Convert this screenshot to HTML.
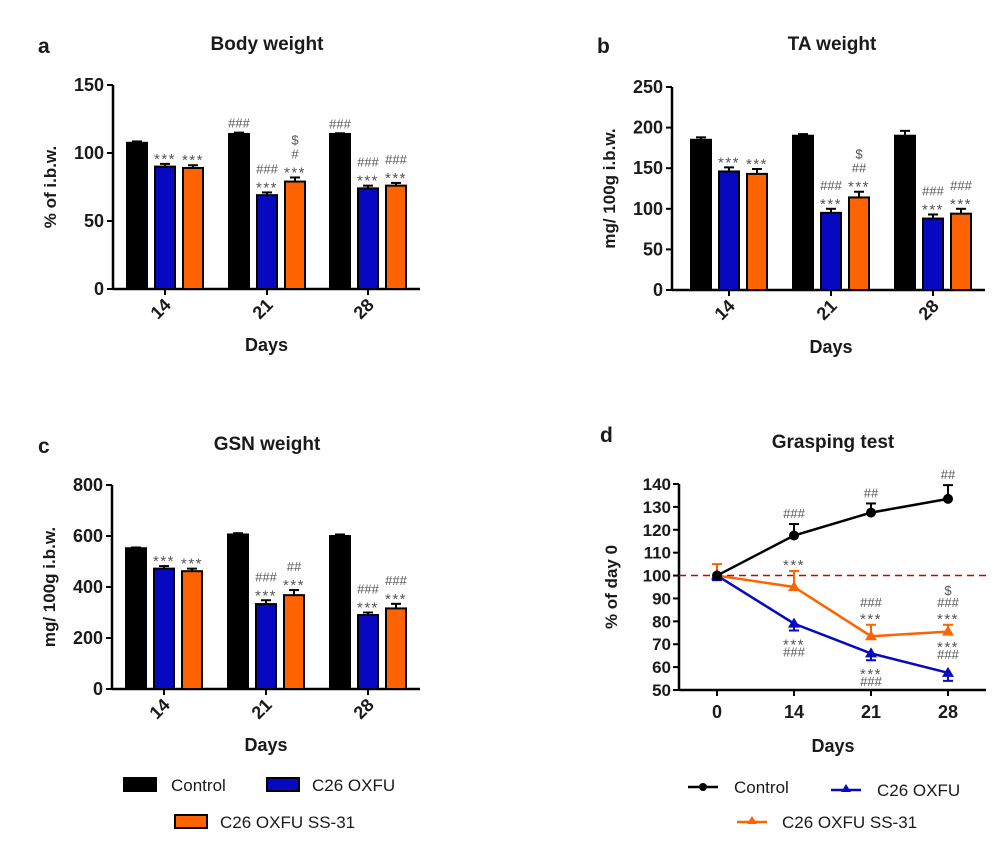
<!DOCTYPE html>
<html><head><meta charset="utf-8"><style>
html,body{margin:0;padding:0;background:#fff;}
svg{display:block;font-family:"Liberation Sans",Arial,sans-serif;}
</style></head><body>
<svg id="fig" width="1000" height="846" viewBox="0 0 1000 846" xmlns="http://www.w3.org/2000/svg"></svg>
<script>
// ---- data ----
const days = ["14","21","28"];
const aControl = [107.5,114,114], aControlErr=[1,1,0.5];
const aOxfu = [90,69,74], aOxfuErr=[2,2,2];
const aSS = [89,79,76], aSSErr=[2,3,2];
const bControl = [185,190,190], bControlErr=[3,2,6];
const bOxfu = [146,95,88], bOxfuErr=[5,5,5];
const bSS = [143,114,94], bSSErr=[6,7,6];
const cControl = [552,606,600], cControlErr=[3,5,6];
const cOxfu = [472,333,290], cOxfuErr=[10,15,10];
const cSS = [462,368,316], cSSErr=[10,20,18];
const aTicks=[0,50,100,150], bTicks=[0,50,100,150,200,250], cTicks=[0,200,400,600,800];
const aAnn=[[[],["***"],["***"]],[["###"],["###","***"],["$","#","***"]],[["###"],["###","***"],["###","***"]]];
const bAnn=[[[],["***"],["***"]],[[],["###","***"],["$","##","***"]],[[],["###","***"],["###","***"]]];
const cAnn=[[[],["***"],["***"]],[[],["###","***"],["##","***"]],[[],["###","***"],["###","***"]]];
const dDays=["0","14","21","28"];
const dControl=[100,117.5,127.5,133.5], dControlErr=[0,5,4,6];
const dOxfu=[100,79,66,57.5], dOxfuErr=[2,3,3,3.5];
const dSS=[100,95,73.5,75.5], dSSErr=[5,7,5,3];
const dTicks=[50,60,70,80,90,100,110,120,130,140];
const dAnnAbove=[[[],["###"],["##"],["##"]],[[],["***"],["###","***"],["$","###","***"]]];
const dAnnBelow=[[],["***","###"],["***","###"],["***","###"]];

const NS="http://www.w3.org/2000/svg";
const svg=document.getElementById('fig');
function el(tag,attrs,parent,text){const e=document.createElementNS(NS,tag);for(const k in attrs)e.setAttribute(k,attrs[k]);if(text!==undefined)e.textContent=text;(parent||svg).appendChild(e);return e;}
const BLUE="#0808c0", ORANGE="#ff6200", GRAY="#555", INK="#1a1a1a";
function annAttrs(txt,x,y){
  if(txt==='***') return {x:x,y:y+5,'font-size':15,'letter-spacing':1.5,fill:GRAY,'text-anchor':'middle'};
  return {x:x,y:y,'font-size':13,fill:GRAY,'text-anchor':'middle'};
}

function barPanel(o){
  const g=el('g',{});
  
  
  const max=o.ticks[o.ticks.length-1];
  const y=v=>o.yBot-(v/max)*(o.yBot-o.yTop);
  const t=el('text',{x:o.letterX,y:o.titleY+3,'font-size':21,'font-weight':'bold',fill:INK},g,o.letter);
  
  const ti=el('text',{x:o.titleX,y:o.titleY,'font-size':19,'font-weight':'bold','text-anchor':'middle',fill:INK},g,o.title);
  
  el('line',{x1:o.x0,y1:o.yTop,x2:o.x0,y2:o.yBot,stroke:'#000','stroke-width':2.5},g);
  el('line',{x1:o.x0,y1:o.yBot,x2:o.xEnd,y2:o.yBot,stroke:'#000','stroke-width':2.5},g);
  o.ticks.forEach(v=>{
    el('line',{x1:o.x0-6,y1:y(v),x2:o.x0,y2:y(v),stroke:'#000','stroke-width':2},g);
    const tl=el('text',{x:o.x0-9,y:y(v)+6,'font-size':18,'font-weight':'bold','text-anchor':'end',fill:INK},g,String(v));
    
  });
  const yt=el('text',{transform:`translate(${o.x0-57},${(o.yTop+o.yBot)/2}) rotate(-90)`,'font-size':17,'font-weight':'bold','text-anchor':'middle',fill:INK},g,o.ytitle);
  
  const series=[[o.ctrl,o.ctrlErr,'#000'],[o.ox,o.oxErr,BLUE],[o.ss,o.ssErr,ORANGE]];
  days.forEach((d,i)=>{
    const cx=o.centers[i];
    el('line',{x1:cx,y1:o.yBot,x2:cx,y2:o.yBot+6,stroke:'#000','stroke-width':2},g);
    const xl=el('text',{transform:`translate(${cx+7},${o.yBot+17}) rotate(-45)`,'font-size':18,'font-weight':'bold','text-anchor':'end',fill:INK},g,d);
    
    series.forEach((s,k)=>{
      const bx=cx+(k-1)*28, v=s[0][i], e=s[1][i];
      el('line',{x1:bx,y1:y(v),x2:bx,y2:y(v+e),stroke:'#000','stroke-width':2},g);
      el('line',{x1:bx-5,y1:y(v+e),x2:bx+5,y2:y(v+e),stroke:'#000','stroke-width':2},g);
      const r=el('rect',{x:bx-10,y:y(v),width:20,height:o.yBot-y(v),fill:s[2],stroke:'#000','stroke-width':2},g);
      
      
      const lines=o.ann[i][k];
      lines.forEach((txt,j)=>{
        const yy=y(v+e)-5-(lines.length-1-j)*14;
        const a=el('text',annAttrs(txt,bx,yy),g,txt);
        
      });
    });
  });
  const dx=el('text',{x:(o.centers[0]+o.centers[2])/2,y:o.daysY,'font-size':18,'font-weight':'bold','text-anchor':'middle',fill:INK},g,'Days');
  
}
barPanel({name:'body-weight-chart',letter:'a',letterX:38,title:'Body weight',titleX:267,titleY:50,x0:113,xEnd:420,yTop:85,yBot:289,ticks:aTicks,centers:[165,267,368],ytitle:'% of i.b.w.',ctrl:aControl,ctrlErr:aControlErr,ox:aOxfu,oxErr:aOxfuErr,ss:aSS,ssErr:aSSErr,ann:aAnn,daysY:351});
barPanel({name:'ta-weight-chart',letter:'b',letterX:597,title:'TA weight',titleX:832,titleY:50,x0:672,xEnd:985,yTop:87,yBot:290,ticks:bTicks,centers:[729,831,933],ytitle:'mg/ 100g i.b.w.',ctrl:bControl,ctrlErr:bControlErr,ox:bOxfu,oxErr:bOxfuErr,ss:bSS,ssErr:bSSErr,ann:bAnn,daysY:353});
barPanel({name:'gsn-weight-chart',letter:'c',letterX:38,title:'GSN weight',titleX:267,titleY:450,x0:112,xEnd:420,yTop:485,yBot:689,ticks:cTicks,centers:[164,266,368],ytitle:'mg/ 100g i.b.w.',ctrl:cControl,ctrlErr:cControlErr,ox:cOxfu,oxErr:cOxfuErr,ss:cSS,ssErr:cSSErr,ann:cAnn,daysY:751});

// bar legend
[[124,778,'#000','Control',171],[267,778,BLUE,'C26 OXFU',312],[175,815,ORANGE,'C26 OXFU SS-31',220]].forEach(l=>{
  const r=el('rect',{x:l[0],y:l[1],width:32,height:13,fill:l[2],stroke:'#000','stroke-width':2});
  
  const t=el('text',{x:l[4],y:l[1]+13,'font-size':17,fill:INK},svg,l[3]);
  
});

// ---- panel d ----
(function(){
  const g=el('g',{});
  
  
  const x0=679,xEnd=986,yTop=484,yBot=690,ymin=50,ymax=140;
  const y=v=>yBot-(v-ymin)/(ymax-ymin)*(yBot-yTop);
  const xs=i=>717+i*77;
  const L=el('text',{x:600,y:442,'font-size':21,'font-weight':'bold',fill:INK},g,'d');
  
  const T=el('text',{x:833,y:448,'font-size':19,'font-weight':'bold','text-anchor':'middle',fill:INK},g,'Grasping test');
  
  el('line',{x1:x0,y1:yTop,x2:x0,y2:yBot,stroke:'#000','stroke-width':2.5},g);
  el('line',{x1:x0,y1:yBot,x2:xEnd,y2:yBot,stroke:'#000','stroke-width':2.5},g);
  dTicks.forEach(v=>{
    el('line',{x1:x0-6,y1:y(v),x2:x0,y2:y(v),stroke:'#000','stroke-width':2},g);
    const t=el('text',{x:x0-8,y:y(v)+6,'font-size':17,'font-weight':'bold','text-anchor':'end',fill:INK},g,String(v));
    
  });
  dDays.forEach((d,i)=>{
    el('line',{x1:xs(i),y1:yBot,x2:xs(i),y2:yBot+6,stroke:'#000','stroke-width':2},g);
    const t=el('text',{x:xs(i),y:yBot+28,'font-size':18,'font-weight':'bold','text-anchor':'middle',fill:INK},g,d);
    
  });
  const yt=el('text',{transform:`translate(617,${(yTop+yBot)/2}) rotate(-90)`,'font-size':17,'font-weight':'bold','text-anchor':'middle',fill:INK},g,'% of day 0');
  
  const dx=el('text',{x:833,y:752,'font-size':18,'font-weight':'bold','text-anchor':'middle',fill:INK},g,'Days');
  
  const ref=el('line',{x1:x0,y1:y(100),x2:xEnd,y2:y(100),stroke:'#c00','stroke-width':1.5,'stroke-dasharray':'7,5'},g);
  
  function series(vals,errs,color,marker,name,down){
    const pl=el('polyline',{points:vals.map((v,i)=>xs(i)+','+y(v)).join(' '),fill:'none',stroke:color,'stroke-width':2.5},g);
    
    vals.forEach((v,i)=>{
      const e=errs[i]; if(e>0){
        const ye=down?y(v-e):y(v+e);
        el('line',{x1:xs(i),y1:y(v),x2:xs(i),y2:ye,stroke:color,'stroke-width':2},g);
        el('line',{x1:xs(i)-5,y1:ye,x2:xs(i)+5,y2:ye,stroke:color,'stroke-width':2},g);
      }
      let m;
      if(marker==='c') m=el('circle',{cx:xs(i),cy:y(v),r:5,fill:color},g);
      else m=el('polygon',{points:`${xs(i)},${y(v)-6} ${xs(i)-6},${y(v)+4} ${xs(i)+6},${y(v)+4}`,fill:color},g);
      
    });
  }
  series(dSS,dSSErr,ORANGE,'t','oxfu-ss31',false);
  series(dOxfu,dOxfuErr,BLUE,'t','oxfu',true);
  series(dControl,dControlErr,'#000','c','control',false);
  const aboveVals=[dControl.map((v,i)=>v+dControlErr[i]),dSS.map((v,i)=>v+dSSErr[i])];
  dAnnAbove.forEach((s,k)=>s.forEach((lines,i)=>lines.forEach((txt,j)=>{
    const yy=y(aboveVals[k][i])-6-(lines.length-1-j)*12;
    const a=el('text',annAttrs(txt,xs(i),yy),g,txt);
    
  })));
  dAnnBelow.forEach((lines,i)=>lines.forEach((txt,j)=>{
    const base=y(dOxfu[i]-dOxfuErr[i]);
    const yy=i===3? y(dOxfu[i]+dOxfuErr[i])-18+j*12 : base+14+j*12;
    const a=el('text',annAttrs(txt,xs(i),yy),g,txt);
    
  }));
  [[688,787,'#000','c','Control',734],[831,790,BLUE,'t','C26 OXFU',877],[737,822,ORANGE,'t','C26 OXFU SS-31',782]].forEach(l=>{
    el('line',{x1:l[0],y1:l[1],x2:l[0]+30,y2:l[1],stroke:l[2],'stroke-width':2.5});
    let m;
    if(l[3]==='c') m=el('circle',{cx:l[0]+15,cy:l[1],r:4,fill:l[2]});
    else m=el('polygon',{points:`${l[0]+15},${l[1]-6} ${l[0]+10},${l[1]+2} ${l[0]+20},${l[1]+2}`,fill:l[2]});
    
    const t=el('text',{x:l[5],y:l[1]+6,'font-size':17,fill:INK},svg,l[4]);
    
  });
})();
</script>
</body></html>
